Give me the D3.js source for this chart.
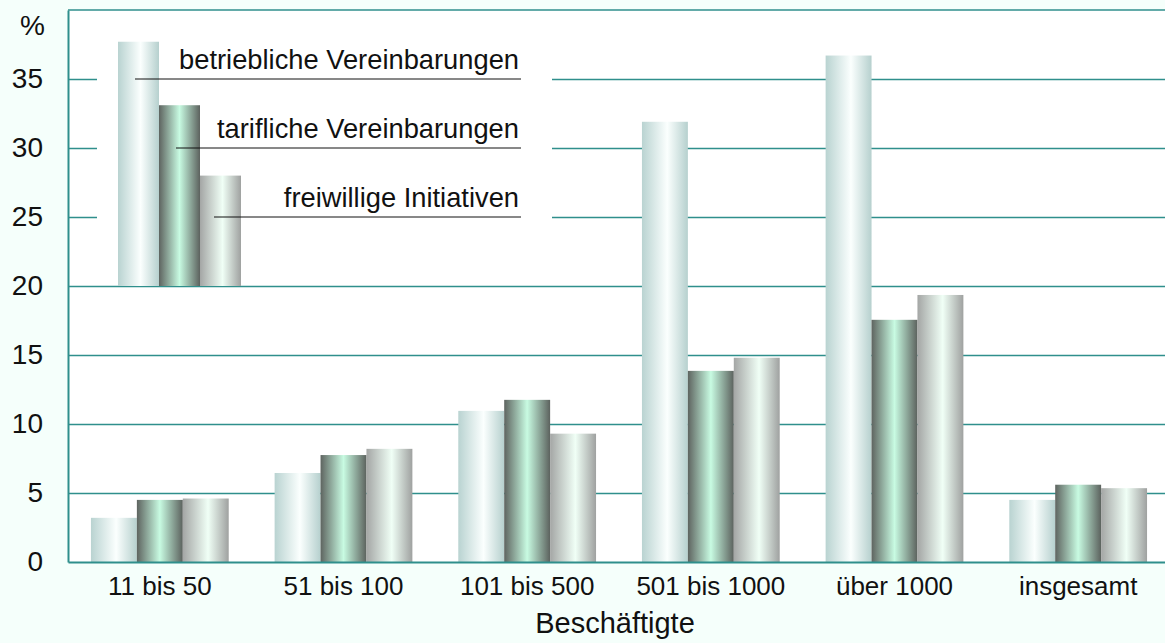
<!doctype html>
<html lang="de">
<head>
<meta charset="UTF-8">
<title>Beschäftigte</title>
<script src="https://d3js.org/d3.v7.min.js"></script>
<style>
  body { margin:0; background:#f5fffb; }
  svg { display:block; font-family:"Liberation Sans", Arial, sans-serif; }
</style>
</head>
<body>
<div id="chart"></div>
<script>
// data
var categories = ["11 bis 50", "51 bis 100", "101 bis 500", "501 bis 1000", "über 1000", "insgesamt"];
var seriesNames = ["betriebliche Vereinbarungen", "tarifliche Vereinbarungen", "freiwillige Initiativen"];
var betrieblich = [3.2, 6.45, 10.95, 31.9, 36.7, 4.5];
var tariflich = [4.5, 7.75, 11.75, 13.85, 17.55, 5.6];
var freiwillig = [4.6, 8.2, 9.3, 14.8, 19.35, 5.35];
var legendValues = [37.7, 33.1, 28.0];
var legendBase = 20;
var yTicks = [0, 5, 10, 15, 20, 25, 30, 35];

var width = 1165, height = 643;
var plotLeft = 68, plotTop = 10, plotBottom = 562, plotRight = 1170;
var gridColor = "#2f8f8c";

var svg = d3.select("#chart").append("svg")
    .attr("width", width)
    .attr("height", height);

// gradients for the bars
var defs = svg.append("defs");
var gradStops = [
  [["0%", "#b9d3d1"], ["55%", "#fbfffe"], ["100%", "#b6d0ce"]],
  [["0%", "#5e6460"], ["50%", "#c8fbe2"], ["100%", "#5c625e"]],
  [["0%", "#a4a6a5"], ["55%", "#f0fff6"], ["100%", "#9fa1a0"]]
];
gradStops.forEach(function(stops, i) {
  var g = defs.append("linearGradient")
      .attr("id", "grad" + i)
      .attr("x1", "0%").attr("x2", "100%")
      .attr("y1", "0%").attr("y2", "0%");
  stops.forEach(function(s) {
    g.append("stop").attr("offset", s[0]).attr("stop-color", s[1]);
  });
});

var yScale = d3.scaleLinear().domain([0, 40]).range([plotBottom, plotTop]);
var xScale = d3.scaleBand().domain(categories).range([plotLeft, plotRight]).paddingInner(0.25).paddingOuter(0.125);
var xInner = d3.scaleBand().domain([0, 1, 2]).range([0, xScale.bandwidth()]);

// plot area
svg.append("rect")
    .attr("x", plotLeft).attr("y", plotTop)
    .attr("width", plotRight - plotLeft).attr("height", plotBottom - plotTop)
    .attr("fill", "#ffffff");

// gridlines
svg.append("g")
    .attr("transform", "translate(" + plotLeft + ",0)")
    .call(d3.axisLeft(yScale).tickValues(yTicks.slice(1)).tickSize(-(plotRight - plotLeft)).tickFormat(""))
    .call(function(g) {
      g.select(".domain").remove();
      g.selectAll("line").attr("stroke", gridColor).attr("stroke-width", 1.4);
    });

// top border
svg.append("line")
    .attr("x1", plotLeft).attr("x2", plotRight)
    .attr("y1", plotTop).attr("y2", plotTop)
    .attr("stroke", gridColor).attr("stroke-width", 1.5);

// legend background
svg.append("rect")
    .attr("x", 97).attr("y", 30)
    .attr("width", 552 - 97).attr("height", yScale(legendBase) - 31)
    .attr("fill", "#ffffff");

// legend bars
var legX = d3.scaleBand().domain([0, 1, 2]).range([118, 241]);
svg.append("g").selectAll("rect")
    .data(legendValues)
    .enter()
    .append("rect")
      .attr("x", function(d, i) { return legX(i); })
      .attr("y", function(d) { return yScale(d); })
      .attr("width", legX.bandwidth())
      .attr("height", function(d) { return yScale(legendBase) - yScale(d); })
      .attr("fill", function(d, i) { return "url(#grad" + i + ")"; });

var legLineY = [35, 30, 25];
var legLineX = [135, 176, 214];
var leg = svg.append("g");
seriesNames.forEach(function(name, i) {
  leg.append("line")
      .attr("x1", legLineX[i]).attr("x2", 521)
      .attr("y1", yScale(legLineY[i])).attr("y2", yScale(legLineY[i]))
      .attr("stroke", "#111").attr("stroke-width", 1);
  leg.append("text")
      .attr("x", 519)
      .attr("y", yScale(legLineY[i]) - 10)
      .attr("text-anchor", "end")
      .attr("font-size", "27.3px")
      .attr("fill", "#111")
      .text(name);
});

// bars
var series = [betrieblich, tariflich, freiwillig];
var groups = svg.append("g").selectAll("g")
    .data(categories)
    .enter()
    .append("g")
      .attr("transform", function(d) { return "translate(" + xScale(d) + ",0)"; });

groups.selectAll("rect")
    .data(function(d, ci) { return series.map(function(s, si) { return { s: si, v: s[ci] }; }); })
    .enter()
    .append("rect")
      .attr("x", function(d) { return xInner(d.s); })
      .attr("y", function(d) { return yScale(d.v); })
      .attr("width", xInner.bandwidth())
      .attr("height", function(d) { return plotBottom - yScale(d.v); })
      .attr("fill", function(d) { return "url(#grad" + d.s + ")"; });

// y axis
svg.append("g")
    .attr("transform", "translate(" + plotLeft + ",0)")
    .call(d3.axisLeft(yScale).tickValues(yTicks).tickSize(0).tickPadding(25))
    .call(function(g) {
      g.select(".domain").attr("stroke", gridColor).attr("stroke-width", 2);
      g.selectAll("text").attr("font-size", "28px").attr("fill", "#111")
        .attr("font-family", "Liberation Sans, Arial, sans-serif");
    });

// x axis
svg.append("g")
    .attr("transform", "translate(0," + plotBottom + ")")
    .call(d3.axisBottom(xScale).tickSize(0).tickPadding(15))
    .call(function(g) {
      g.select(".domain").attr("stroke", gridColor).attr("stroke-width", 2);
      g.selectAll("text").attr("font-size", "26px").attr("fill", "#111")
        .attr("font-family", "Liberation Sans, Arial, sans-serif");
    });

svg.append("text")
    .attr("x", 45).attr("y", 35)
    .attr("text-anchor", "end")
    .attr("font-size", "28px")
    .attr("fill", "#111")
    .text("%");

svg.append("text")
    .attr("x", 615).attr("y", 633)
    .attr("text-anchor", "middle")
    .attr("font-size", "29px")
    .attr("fill", "#111")
    .text("Beschäftigte");
</script>
</body>
</html>
